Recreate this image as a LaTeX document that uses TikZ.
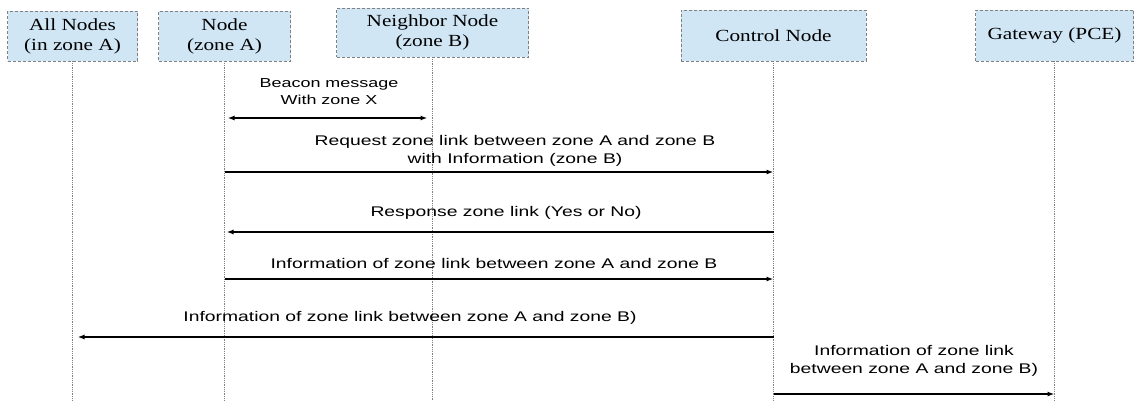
\documentclass[tikz,border=0pt]{standalone}
\usepackage{fontspec}
\usetikzlibrary{arrows.meta}
\newfontfamily\boxfont[FakeStretch=1.25]{Liberation Serif}
\newfontfamily\msgfont[FakeStretch=1.38]{Liberation Sans}
\definecolor{boxblue}{RGB}{208,230,245}
\tikzset{
  actor/.style={draw=gray, densely dashed, line width=0.6pt, fill=boxblue, align=center,
    inner sep=0pt, font=\boxfont\fontsize{17}{20}\selectfont},
  lifeline/.style={draw=gray, densely dotted, line width=0.8pt},
  msg/.style={line width=1.5pt, -{Latex[length=7pt,width=5pt]}},
  lbl/.style={align=center, font=\msgfont\fontsize{14}{18}\selectfont},
}
\begin{document}
\begin{tikzpicture}[x=1pt,y=1pt,yscale=-1]
\useasboundingbox (0,0) rectangle (1134,401);

% Actors
\node [actor, minimum width=130, minimum height=50] (allnodes) at (72.5,36) {All Nodes\\(in zone A)};
\node [actor, minimum width=132, minimum height=50] (zoneA) at (224.5,36) {Node\\(zone A)};
\node [actor, minimum width=192, minimum height=49] (zoneB) at (432.5,32.5) {Neighbor Node\\(zone B)};
\node [actor, minimum width=185, minimum height=51] (ctrl) at (773.5,35.5) {Control Node};
\node [actor, minimum width=158, minimum height=51] (gw) at (1054.5,35.5) {Gateway (PCE)};

% Lifelines
\draw [lifeline] (allnodes) -- (allnodes |- 0,401);
\draw [lifeline] (zoneA) -- (zoneA |- 0,401);
\draw [lifeline] (zoneB) -- (zoneB |- 0,401);
\draw [lifeline] (ctrl) -- (ctrl |- 0,401);
\draw [lifeline] (gw) -- (gw |- 0,401);

% Messages
\draw [msg, {Latex[length=7pt,width=5pt]}-{Latex[length=7pt,width=5pt]}, shorten <=3pt, shorten >=5pt] (zoneA |- 0,118) -- (zoneB |- 0,118);
\draw [msg] (zoneA |- 0,172) -- (ctrl |- 0,172);
\draw [msg, shorten >=2pt] (ctrl |- 0,232) -- (zoneA |- 0,232);
\draw [msg] (zoneA |- 0,279) -- (ctrl |- 0,279);
\draw [msg, shorten >=5pt] (ctrl |- 0,337) -- (allnodes |- 0,337);
\draw [msg] (ctrl |- 0,394) -- (gw |- 0,394);

% Text Node
\node [lbl, font=\msgfont\fontsize{13}{17}\selectfont] (beacon) at (329,91.5) {Beacon message\\With zone X};
\node [lbl] (req) at (515,151) {Request zone link between zone A and zone B\\with Information (zone B)};
\node [lbl] (resp) at (506,213) {Response zone link (Yes or No)};
\node [lbl] (info) at (494,263) {Information of zone link between zone A and zone B};
\node [lbl] (infoall) at (410,318) {Information of zone link between zone A and zone B)};
\node [lbl] (infogw) at (914,360.5) {Information of zone link\\between zone A and zone B)};

\end{tikzpicture}
\end{document}
